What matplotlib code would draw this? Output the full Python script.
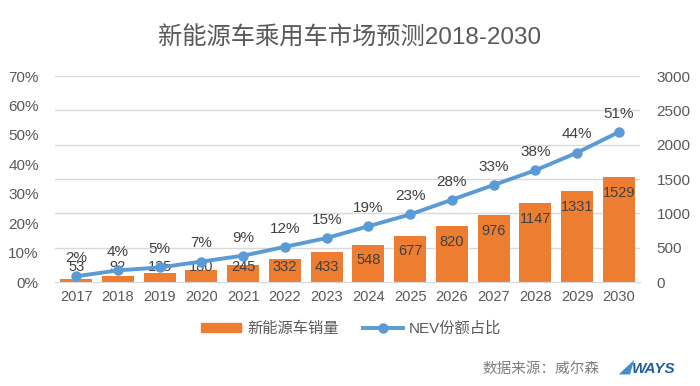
import matplotlib.pyplot as plt
import numpy as np
from matplotlib.patches import Patch, Polygon
from matplotlib.lines import Line2D

plt.rcParams['font.family'] = ['Liberation Sans', 'Noto Sans CJK SC', 'DejaVu Sans']

years = ['2017', '2018', '2019', '2020', '2021', '2022', '2023',
         '2024', '2025', '2026', '2027', '2028', '2029', '2030']
sales = [53, 92, 135, 180, 245, 332, 433, 548, 677, 820, 976, 1147, 1331, 1529]
share = [2, 4, 5, 7, 9, 12, 15, 19, 23, 28, 33, 38, 44, 51]

orange = '#ED7D31'
blue = '#5B9BD5'
txt = '#595959'

fig = plt.figure(figsize=(7, 3.86), dpi=100)
ax = fig.add_axes([0.079, 0.269, 0.835, 0.534])
ax2 = ax.twinx()

x = np.arange(len(years))

# bars on the right axis
ax2.bar(x, sales, width=0.77, color=orange, zorder=2)
for xi, v in zip(x, sales):
    ax2.text(xi, max(v - 230, 218), str(v), ha='center', va='center',
             fontsize=10.5, color='#404040', zorder=5)
ax2.set_ylim(0, 3000)
ax2.set_yticks(np.arange(0, 3001, 500))

# line on the left axis, drawn above the bars
ax.set_zorder(ax2.get_zorder() + 1)
ax.patch.set_visible(False)
ax.plot(x, share, color=blue, lw=2.8, marker='o', ms=6.5, zorder=4)
for xi, p in zip(x, share):
    ax.annotate('{}%'.format(p), (xi, p), textcoords='offset points',
                xytext=(0, 8), ha='center', va='bottom', fontsize=11,
                color='#404040')
ax.set_ylim(0, 70)
ax.set_yticks(np.arange(0, 71, 10))
ax.set_yticklabels(['{}%'.format(t) for t in range(0, 71, 10)])
ax.set_xlim(-0.5, len(years) - 0.5)
ax.set_xticks(x)
ax.set_xticklabels(years)

# gridlines in the background
ax2.set_axisbelow(True)
for t in np.arange(500, 3001, 500):
    ax2.axhline(t, color='#d9d9d9', lw=1, zorder=0)

for a in (ax, ax2):
    for s in ('top', 'left', 'right'):
        a.spines[s].set_visible(False)
    a.spines['bottom'].set_color('#d9d9d9')
    a.tick_params(length=0, colors=txt, labelsize=11)
ax.tick_params(axis='y', pad=12)
ax2.tick_params(axis='y', pad=12)
ax.tick_params(axis='x', pad=6, labelsize=10.5)

fig.text(0.5, 0.902, '新能源车乘用车市场预测2018-2030', ha='center', va='center',
         fontsize=17.5, color=txt)

handles = [Patch(color=orange),
           Line2D([0], [0], color=blue, lw=2.8, marker='o', ms=6.5)]
fig.legend(handles, ['新能源车销量', 'NEV份额占比'], loc='center',
           bbox_to_anchor=(0.502, 0.148), ncol=2, frameon=False, fontsize=11,
           labelcolor=txt, handlelength=2.6, columnspacing=1.6,
           handletextpad=0.4, handleheight=0.5)

fig.text(0.857, 0.045, '数据来源：威尔森', ha='right', va='center',
         fontsize=10.5, color='#7f7f7f')
# small logo swoosh + name
fig.patches.append(Polygon([[0.884, 0.030], [0.906, 0.068], [0.900, 0.030]],
                           closed=True, transform=fig.transFigure,
                           facecolor='#3a8fd0', edgecolor='none'))
fig.text(0.902, 0.045, 'WAYS', ha='left', va='center', fontsize=11,
         fontweight='bold', style='italic', color='#1f5f9e')

fig.savefig('out.png', dpi=100)
